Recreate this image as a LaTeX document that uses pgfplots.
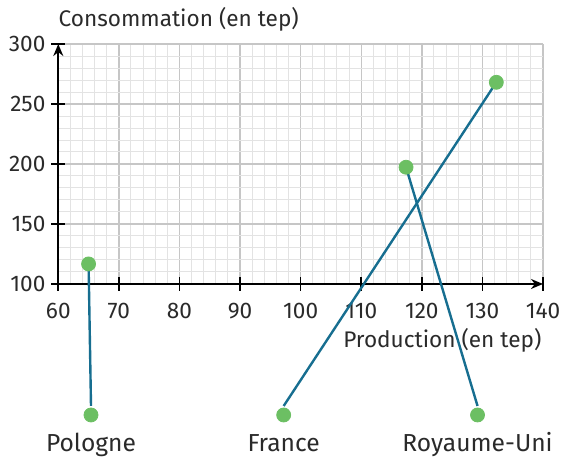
\documentclass[border=0pt]{standalone}
\usepackage{pgfplots}
\pgfplotsset{compat=1.18}
\usepackage{fontspec}
\setmainfont{Fira Sans}
\usetikzlibrary{arrows.meta}
\definecolor{dotgreen}{HTML}{6CBF63}
\definecolor{linkblue}{HTML}{176E90}
\definecolor{gridmajor}{HTML}{C6C6C6}
\definecolor{gridminor}{HTML}{E3E3E3}
\definecolor{txt}{HTML}{2A2A2A}
\begin{document}
\begin{tikzpicture}
\begin{axis}[
  scale only axis, width=242.4pt, height=120pt,
  xmin=60, xmax=140, ymin=100, ymax=300,
  axis lines=left,
  axis line style={line width=0.9pt,-{Stealth[length=6pt,width=5pt]}},
  xtick={60,70,...,140}, ytick={100,150,...,300},
  minor x tick num=4, minor y tick num=4,
  grid=both,
  major grid style={gridmajor,line width=0.7pt},
  minor grid style={gridminor,line width=0.5pt},
  tick align=center, major tick length=7pt, minor tick length=0pt,
  every tick/.style={black,line width=0.8pt},
  clip=false,
  /pgf/number format/assume math mode=true,
  ticklabel style={font=\fontsize{11.3}{13}\selectfont, text=txt},
  yticklabel style={xshift=0.6pt},
  xticklabel style={yshift=-2.5pt},
]
% bounding box corners
\coordinate (BL) at (axis cs:50.38,-44.2);
\coordinate (TR) at (axis cs:143.14,336.7);
% titles
\node[anchor=west, inner sep=0pt, font=\fontsize{11.3}{12}\selectfont, text=txt] at (axis cs:60,320.8) {Consommation (en tep)};
\node[anchor=east, inner sep=0pt, font=\fontsize{11.3}{12}\selectfont, text=txt] at (axis cs:139.8,53.3) {Production (en tep)};
% dots
\addplot[only marks, mark=*, mark size=3.5pt, color=dotgreen, mark options={draw=dotgreen, fill=dotgreen}]
  coordinates {(65,116.7) (132.3,268.1) (117.4,197.3) (65.4,-9.2) (97.2,-9.2) (129.2,-9.2)};
% leader lines
\addplot[linkblue, line width=1.2pt, no marks] coordinates {(65.4,-1.7) (65,116.7)};
\addplot[linkblue, line width=1.2pt, no marks] coordinates {(97.2,-1.7) (132.3,268.1)};
\addplot[linkblue, line width=1.2pt, no marks] coordinates {(129.2,-1.7) (117.4,197.3)};
% labels
\node[anchor=base, inner sep=0pt, font=\fontsize{12.3}{14}\selectfont, text=txt] at (axis cs:65.4,-39.8) {Pologne};
\node[anchor=base, inner sep=0pt, font=\fontsize{12.3}{14}\selectfont, text=txt] at (axis cs:97.2,-39.8) {France};
\node[anchor=base, inner sep=0pt, font=\fontsize{12.3}{14}\selectfont, text=txt] at (axis cs:129.2,-39.8) {Royaume-Uni};
\end{axis}
\pgfresetboundingbox
\path[use as bounding box] (BL) rectangle (TR);
\end{tikzpicture}
\end{document}
